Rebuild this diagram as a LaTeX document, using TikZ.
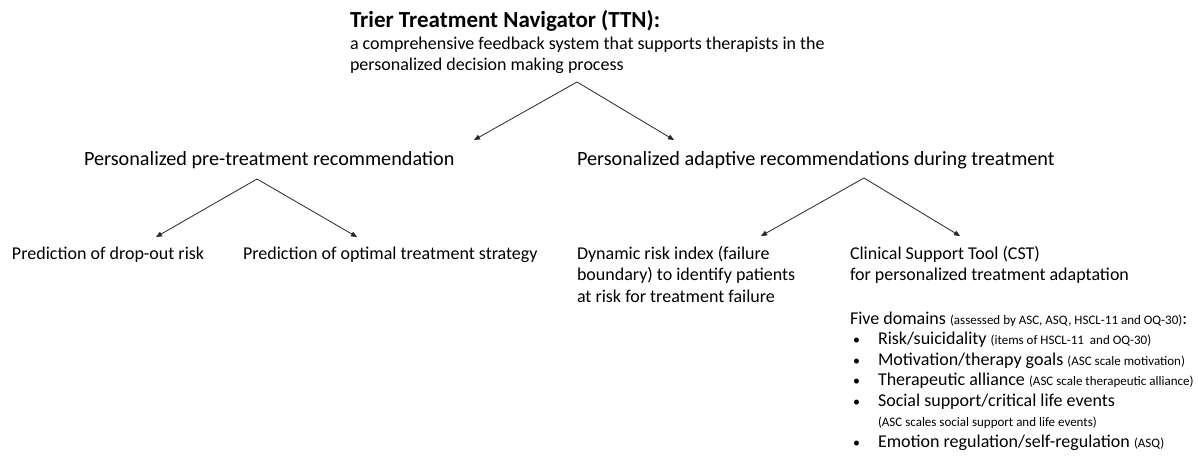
\documentclass[tikz,border=0pt]{standalone}
\usepackage{fontspec}
\setmainfont{Carlito}
\usetikzlibrary{arrows.meta}
\newcommand{\note}[1]{{\fontsize{13}{15}\selectfont #1}}
\begin{document}
\begin{tikzpicture}[x=1pt,y=-1pt,
  lbl/.style={anchor=base west, inner sep=0pt, outer sep=0pt, text=black},
  titlefont/.style={font=\fontsize{23}{27}\selectfont\bfseries},
  headfont/.style={font=\fontsize{20.2}{24}\selectfont},
  bodyfont/.style={font=\fontsize{18}{21}\selectfont},
  dot/.style={lbl, font=\fontsize{14}{16}\selectfont},
  link/.style={draw=black!85, line width=0.8pt, -{Triangle[length=6pt,width=5pt]}},
]
\useasboundingbox (0,0) rectangle (1198,457);

% root
\node[lbl,titlefont] (title) at (350,28) {Trier Treatment Navigator (TTN):};
\node[lbl,bodyfont] (sub1) at (350,50) {a comprehensive feedback system that supports therapists in the};
\node[lbl,bodyfont] (sub2) at (350,70.5) {personalized decision making process};

% second level
\node[lbl,headfont] (pre) at (84,166) {Personalized pre-treatment recommendation};
\node[lbl,headfont] (ada) at (577,166) {Personalized adaptive recommendations during treatment};

% leaves
\node[lbl,bodyfont] (drop) at (12,259) {Prediction of drop-out risk};
\node[lbl,bodyfont] (strat) at (243,259) {Prediction of optimal treatment strategy};
\node[lbl,bodyfont] (dyn1) at (577,259) {Dynamic risk index (failure};
\node[lbl,bodyfont] (dyn2) at (577,280.5) {boundary) to identify patients};
\node[lbl,bodyfont] (dyn3) at (577,302) {at risk for treatment failure};
\node[lbl,bodyfont] (cst1) at (850,259) {Clinical Support Tool (CST)};
\node[lbl,bodyfont] (cst2) at (850,280.5) {for personalized treatment adaptation};

% domains of the clinical support tool
\node[lbl,bodyfont] (five) at (850,324) {Five domains \note{(assessed by ASC, ASQ, HSCL-11 and OQ-30)}:};
\foreach \y/\nm in {344.5/b1,365/b2,385.5/b3,406/b4,447/b5}
  \node[dot] (\nm) at (853,\y) {•};
\node[lbl,bodyfont] (d1) at (878,344.5) {Risk/suicidality \note{(items of HSCL-11~ and OQ-30)}};
\node[lbl,bodyfont] (d2) at (878,365) {Motivation/therapy goals \note{(ASC scale motivation)}};
\node[lbl,bodyfont] (d3) at (878,385.5) {Therapeutic alliance \note{(ASC scale therapeutic alliance)}};
\node[lbl,bodyfont] (d4) at (878,406) {Social support/critical life events};
\node[lbl] (d4n) at (878,426.5) {\note{(ASC scales social support and life events)}};
\node[lbl,bodyfont] (d5) at (878,447) {Emotion regulation/self-regulation \note{(ASQ)}};

% branch points and arrow targets
\coordinate (rootFork) at (577,82);
\coordinate (preIn) at (474,140);
\coordinate (adaIn) at (674,140);
\coordinate (preFork) at (257,179);
\coordinate (dropIn) at (156,237);
\coordinate (stratIn) at (357,237);
\coordinate (adaFork) at (864,178);
\coordinate (dynIn) at (761,236);
\coordinate (cstIn) at (960,236);

\draw[link] (rootFork) -- (preIn);
\draw[link] (rootFork) -- (adaIn);
\draw[link] (preFork) -- (dropIn);
\draw[link] (preFork) -- (stratIn);
\draw[link] (adaFork) -- (dynIn);
\draw[link] (adaFork) -- (cstIn);
\end{tikzpicture}
\end{document}
